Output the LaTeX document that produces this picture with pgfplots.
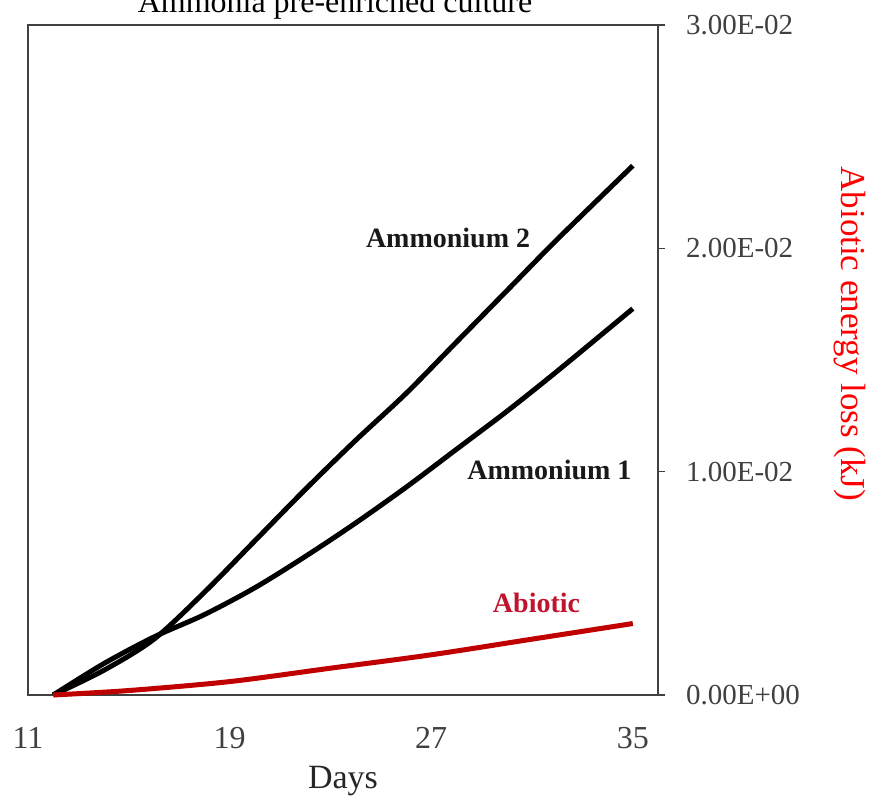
\documentclass[border=0pt]{standalone}
\usepackage{pgfplots}
\pgfplotsset{compat=1.18}
\usepackage{pgfplotstable}
\usepackage{fontspec}
\setmainfont{Liberation Serif}
\definecolor{abio}{HTML}{C00000}
\definecolor{abiolab}{HTML}{C0142D}
\definecolor{labred}{HTML}{FF0000}
\definecolor{ticklab}{HTML}{404040}

\pgfplotstableread{
day val
12 0
14 0.0011
16 0.0025
18 0.0046
20 0.0069
22 0.0092
24 0.0114
26 0.0135
28 0.0158
30 0.0181
32 0.0204
35 0.0237
}\ammtwo
\pgfplotstableread{
day val
12 0
14 0.0014
16 0.0026
18 0.0036
20 0.0048
22 0.0062
24 0.0077
26 0.0093
28 0.0110
30 0.0127
32 0.0145
35 0.0173
}\ammone
\pgfplotstableread{
day val
12 0
15 0.0002
19 0.0006
23 0.0012
27 0.0018
31 0.0025
35 0.0032
}\abiotic

\begin{document}
\begin{tikzpicture}
\begin{axis}[
 at={(0,0)}, anchor=south west,
 width=315pt, height=335pt, scale only axis,
 xmin=11, xmax=36, ymin=0, ymax=0.03,
 axis line style={draw=black!75, line width=0.75pt},
 xtick={11,19,27,35}, xticklabels={11,19,27,35},
 xtick style={draw=none},
 xticklabel style={font=\fontsize{16}{18}\selectfont, text=ticklab, yshift=-9pt},
 ytick={0,0.01,0.02,0.03},
 yticklabels={0.00E+00,1.00E-02,2.00E-02,3.00E-02},
 ytick pos=right, yticklabel pos=right,
 tick align=outside,
 major tick length=3.5pt,
 ytick style={draw=black!75, line width=0.75pt},
 yticklabel style={font=\fontsize{14.5}{16}\selectfont, text=ticklab, anchor=west, xshift=7pt},
 xlabel={Days},
 xlabel style={font=\fontsize{17}{19}\selectfont, text=black!85, at={(axis description cs:0.5,-0.1285)}, anchor=center},
 clip=false,
 scaled y ticks=false,
]
\addplot[black, line width=2.5pt, smooth, line join=round] table[x=day,y=val]{\ammtwo};
\addplot[black, line width=2.5pt, smooth, line join=round] table[x=day,y=val]{\ammone};
\addplot[abio, line width=2.5pt, smooth, line join=round] table[x=day,y=val]{\abiotic};
\node[font=\bfseries\fontsize{14}{16}\selectfont, text=black!90] at (axis cs:27.67,0.02046) {Ammonium 2};
\node[font=\bfseries\fontsize{14}{16}\selectfont, text=black!90] at (axis cs:31.69,0.01008) {Ammonium 1};
\node[font=\bfseries\fontsize{14}{16}\selectfont, text=abiolab] at (axis cs:31.18,0.00412) {Abiotic};
\node[font=\fontsize{16}{18}\selectfont, anchor=base, xshift=-4pt, yshift=6pt] at (rel axis cs:0.5,1) {Ammonia pre-enriched culture};
\node[font=\fontsize{17.5}{19}\selectfont, text=labred, rotate=-90] at ([xshift=96pt]rel axis cs:1,0.539) {Abiotic energy loss (kJ)};
\end{axis}
\pgfresetboundingbox
\useasboundingbox (-14pt,-51pt) rectangle (422.5pt,347.5pt);
\end{tikzpicture}
\end{document}
